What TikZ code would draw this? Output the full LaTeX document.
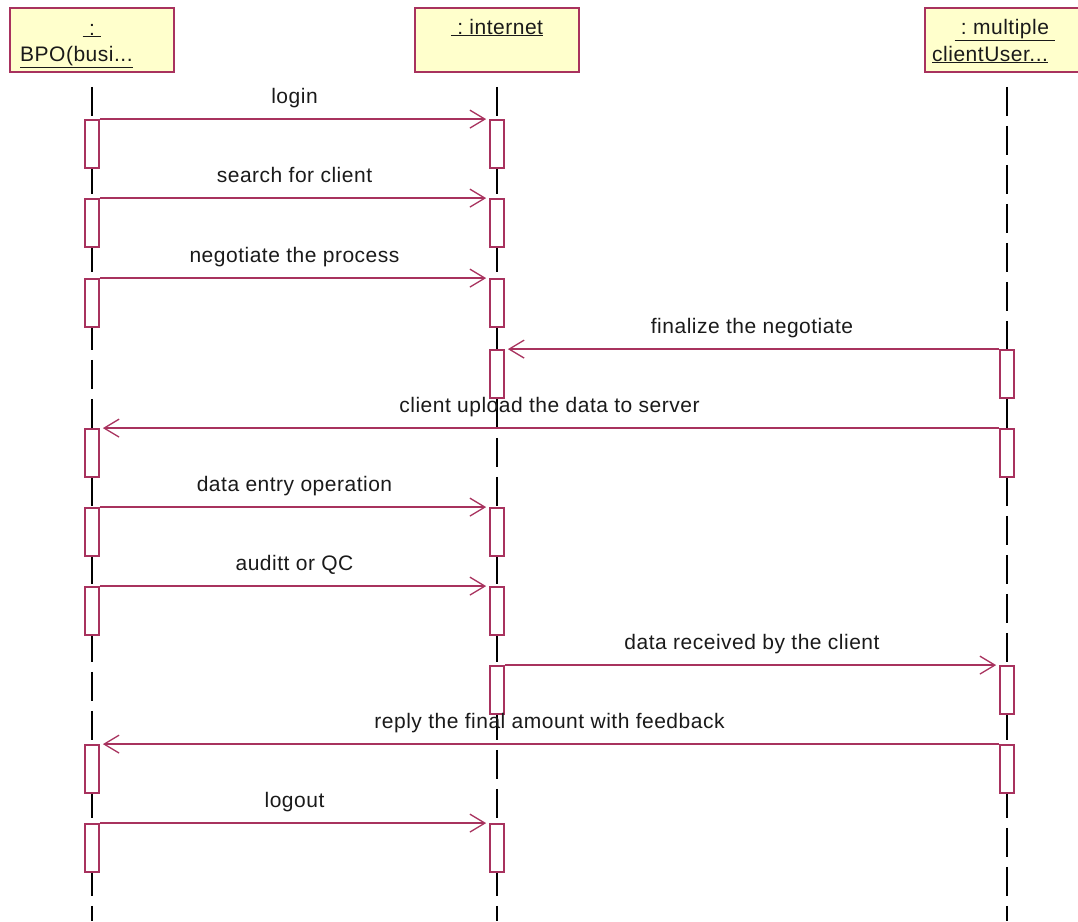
\documentclass[tikz,border=0pt]{standalone}
\usepackage{fontspec}
\setmainfont{Liberation Sans}
\usetikzlibrary{arrows.meta,positioning}
\definecolor{RoseLine}{HTML}{A8325E}
\definecolor{RoseFill}{HTML}{FFFFCC}
\definecolor{RoseInk}{HTML}{1A1A1A}
\newcommand{\rosefont}{\fontsize{21}{25}\selectfont\addfontfeature{LetterSpace=2.4}\color{RoseInk}}

\begin{document}
\begin{tikzpicture}[x=1pt, y=-1pt,
  obj/.style={fill=RoseFill, draw=RoseLine, line width=1.8pt,
              minimum width=164pt, minimum height=64pt, inner sep=0pt},
  objtext/.style={anchor=base, inner sep=0pt, font=\rosefont},
  lifeline/.style={draw=black, line width=1.4pt, dash pattern=on 29pt off 10pt},
  actbar/.style={fill=white, draw=RoseLine, line width=1.8pt,
              minimum width=14pt, minimum height=48pt, inner sep=0pt},
  msg/.style={draw=RoseLine, line width=1.8pt, shorten >=3pt,
              -{Straight Barb[length=15pt,width=18pt,line width=1.3pt]}},
  msglabel/.style={midway, anchor=base, yshift=16pt, inner sep=0pt, font=\rosefont}]
  \useasboundingbox (0,0) rectangle (1078,921);
  \clip (0,0) rectangle (1078,921);

  % objects
  \node[obj] (bpo) at (92,40) {};
  \node[obj] (inet) at (497,40) {};
  \node[obj] (client) at (1007,40) {};
  \node[objtext] (bpoA) at (92,35) {\underline{\ :\ }};
  \node[objtext, anchor=base west] (bpoB) at (20,61) {\underline{BPO(busi...}};
  \node[objtext] (inetA) at (497,34) {\underline{\ :\ internet}};
  \node[objtext] (clientA) at (1005,34) {\underline{\ :\ multiple\ }};
  \node[objtext, anchor=base west] (clientB) at (932,61) {\underline{clientUser...}};

  % lifelines
  \coordinate (bpoEnd) at (92,921);
  \coordinate (inetEnd) at (497,921);
  \coordinate (clientEnd) at (1007,921);
  \draw[lifeline] ([yshift=-14pt]bpo.south) -- (bpoEnd);
  \draw[lifeline] ([yshift=-14pt]inet.south) -- (inetEnd);
  \draw[lifeline] ([yshift=-14pt]client.south) -- (clientEnd);

  % activations
  \node[actbar] (bpo1) at (92,144) {};
  \node[actbar] (bpo2) at (92,223) {};
  \node[actbar] (bpo3) at (92,303) {};
  \node[actbar] (bpo4) at (92,453) {};
  \node[actbar] (bpo5) at (92,532) {};
  \node[actbar] (bpo6) at (92,611) {};
  \node[actbar] (bpo7) at (92,769) {};
  \node[actbar] (bpo8) at (92,848) {};
  \node[actbar] (inet1) at (497,144) {};
  \node[actbar] (inet2) at (497,223) {};
  \node[actbar] (inet3) at (497,303) {};
  \node[actbar] (inet4) at (497,374) {};
  \node[actbar] (inet5) at (497,532) {};
  \node[actbar] (inet6) at (497,611) {};
  \node[actbar] (inet7) at (497,690) {};
  \node[actbar] (inet8) at (497,848) {};
  \node[actbar] (client1) at (1007,374) {};
  \node[actbar] (client2) at (1007,453) {};
  \node[actbar] (client3) at (1007,690) {};
  \node[actbar] (client4) at (1007,769) {};

  % messages
  \draw[msg] (bpo1.north east) -- node[msglabel] (m1) {login} (inet1.north west);
  \draw[msg] (bpo2.north east) -- node[msglabel] (m2) {search for client} (inet2.north west);
  \draw[msg] (bpo3.north east) -- node[msglabel] (m3) {negotiate the process} (inet3.north west);
  \draw[msg] (client1.north west) -- node[msglabel] (m4) {finalize the negotiate} (inet4.north east);
  \draw[msg] (client2.north west) -- node[msglabel] (m5) {client upload the data to server} (bpo4.north east);
  \draw[msg] (bpo5.north east) -- node[msglabel] (m6) {data entry operation} (inet5.north west);
  \draw[msg] (bpo6.north east) -- node[msglabel] (m7) {auditt or QC} (inet6.north west);
  \draw[msg] (inet7.north east) -- node[msglabel] (m8) {data received by the client} (client3.north west);
  \draw[msg] (client4.north west) -- node[msglabel] (m9) {reply the final amount with feedback} (bpo7.north east);
  \draw[msg] (bpo8.north east) -- node[msglabel] (m10) {logout} (inet8.north west);
\end{tikzpicture}
\end{document}
